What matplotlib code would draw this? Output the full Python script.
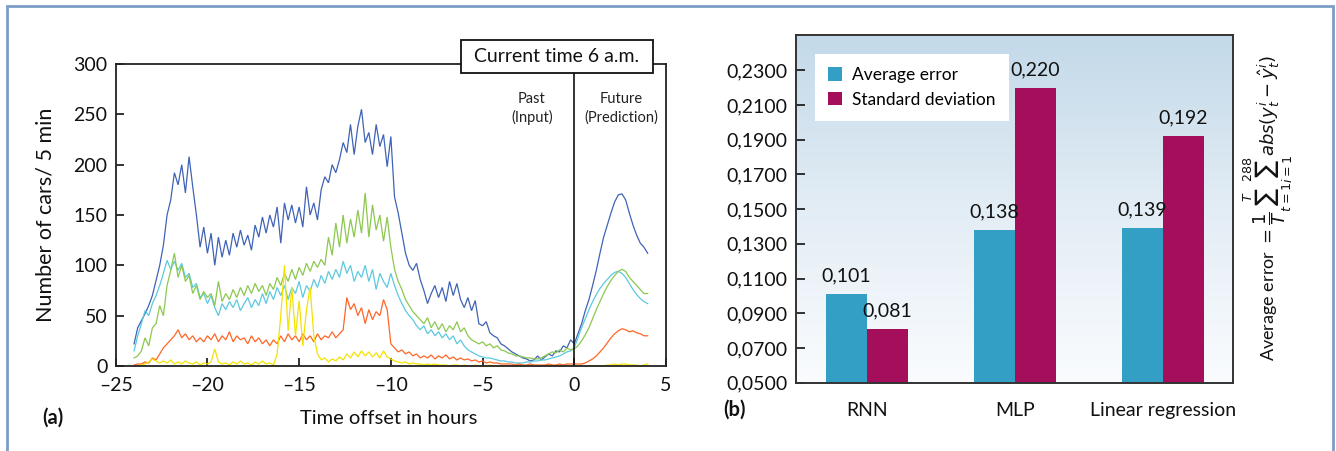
import numpy as np
import matplotlib
matplotlib.use("Agg")
import matplotlib.pyplot as plt
from matplotlib.patches import Rectangle
from matplotlib.colors import LinearSegmentedColormap

plt.rcParams['font.family'] = ['Lato', 'DejaVu Sans']
plt.rcParams['mathtext.fontset'] = 'dejavusans'

# ---------------- Panel (a) data: cars / 5 min, sampled every 0.2 h ----------------
hours = np.round(np.arange(-24.0, 4.0001, 0.2), 1)

series_blue = [
    22, 38, 45, 52, 60, 70, 85, 100, 120, 150,
    165, 192, 180, 200, 172, 208, 178, 150, 118, 138,
    112, 132, 100, 128, 108, 125, 110, 132, 118, 135,
    120, 130, 115, 140, 128, 148, 132, 150, 138, 158,
    122, 162, 145, 160, 142, 158, 138, 178, 150, 162,
    145, 175, 188, 182, 200, 192, 205, 222, 212, 240,
    210, 238, 255, 222, 232, 210, 240, 218, 230, 198,
    228, 168, 152, 132, 112, 100, 95, 102, 86, 75,
    62, 72, 80, 68, 78, 64, 84, 70, 82, 66,
    58, 68, 55, 65, 42, 40, 44, 33, 30, 28,
    22, 20, 17, 14, 12, 10, 8, 7, 5, 6,
    10, 6, 9, 12, 10, 15, 14, 20, 18, 26,
    22,
    32, 42, 55, 66, 80, 95, 112, 128, 140, 152,
    163, 170, 171, 165, 152, 140, 130, 122, 118, 112,
]
series_cyan = [
    15, 30, 42, 55, 50, 62, 70, 80, 92, 105,
    96, 104, 95, 102, 88, 92, 78, 82, 68, 72,
    62, 70, 58, 50, 62, 56, 64, 58, 66, 55,
    62, 68, 58, 66, 60, 72, 62, 74, 66, 78,
    70, 80, 66, 78, 72, 84, 68, 80, 74, 86,
    78, 90, 82, 94, 86, 96, 88, 104, 92, 100,
    84, 94, 88, 100, 84, 96, 76, 92, 84, 78,
    92, 80, 70, 62, 55, 50, 46, 40, 36, 40,
    32, 36, 30, 34, 28, 32, 26, 30, 22, 26,
    20, 16, 14, 12, 10, 9, 8, 8, 7, 6,
    5, 5, 4, 4, 3, 3, 3, 4, 4, 5,
    5, 6, 6, 7, 8, 9, 10, 12, 14, 15,
    18,
    28, 38, 47, 56, 64, 71, 77, 82, 86, 90,
    93, 94, 92, 88, 82, 76, 71, 67, 64, 62,
]
series_green = [
    8, 10, 15, 28, 20, 38, 42, 60, 50, 80,
    95, 112, 88, 100, 84, 90, 72, 80, 66, 74,
    68, 72, 60, 84, 64, 72, 66, 76, 68, 78,
    70, 80, 72, 82, 74, 80, 70, 82, 76, 88,
    80, 92, 84, 96, 86, 98, 90, 102, 94, 104,
    98, 106, 100, 128, 110, 142, 118, 150, 122, 146,
    128, 155, 132, 172, 128, 160, 135, 150, 124, 148,
    118, 96, 84, 76, 66, 60, 54, 50, 46, 42,
    48, 38, 44, 36, 42, 34, 40, 36, 44, 34,
    38, 30, 26, 24, 22, 24, 20, 22, 18, 20,
    16, 15, 13, 12, 10, 10, 9, 8, 8, 7,
    7, 8, 10, 12, 14, 13, 16, 14, 18, 16,
    17,
    20, 25, 31, 38, 47, 56, 64, 72, 79, 85,
    90, 94, 96, 94, 88, 84, 80, 76, 72, 72,
]
series_orange = [
    1, 2, 2, 4, 3, 8, 6, 12, 18, 22,
    26, 30, 36, 28, 32, 26, 30, 24, 28, 24,
    30, 26, 32, 24, 30, 26, 34, 24, 30, 26,
    28, 22, 30, 24, 28, 22, 26, 20, 26, 22,
    30, 24, 32, 26, 30, 24, 32, 26, 30, 24,
    32, 26, 30, 28, 34, 28, 32, 36, 68, 56,
    62, 50, 58, 42, 56, 46, 54, 50, 66, 56,
    22, 18, 14, 16, 12, 14, 10, 12, 8, 10,
    8, 11, 7, 10, 8, 11, 7, 9, 6, 8,
    6, 7, 5, 6, 4, 5, 3, 4, 3, 3,
    2, 2, 2, 2, 1, 2, 1, 1, 2, 1,
    1, 1, 1, 2, 1, 1, 2, 1, 2, 2,
    2,
    2, 2, 3, 5, 7, 10, 14, 18, 23, 28,
    32, 35, 37, 36, 34, 35, 33, 32, 30, 30,
]
series_yellow = [
    0, 0, 1, 2, 4, 7, 5, 3, 5, 3,
    6, 2, 4, 2, 5, 3, 2, 4, 1, 3,
    2, 4, 17, 4, 2, 3, 1, 4, 2, 5,
    2, 3, 1, 4, 2, 5, 2, 3, 1, 12,
    50, 100, 35, 78, 30, 65, 20, 56, 78, 30,
    12, 6, 8, 4, 7, 5, 9, 6, 12, 8,
    14, 9, 15, 10, 14, 9, 13, 8, 15, 9,
    7, 5, 4, 3, 4, 2, 3, 2, 2, 1,
    2, 1, 2, 1, 1, 1, 0, 1, 1, 0,
    1, 0, 0, 1, 0, 0, 0, 1, 0, 0,
    0, 0, 0, 0, 0, 0, 0, 0, 0, 0,
    0, 0, 0, 0, 0, 0, 0, 0, 0, 0,
    0,
    0, 0, 0, 0, 0, 0, 0, 0, 1, 1,
    2, 1, 2, 2, 1, 1, 1, 0, 1, 2,
]
xticks_a = [-25, -20, -15, -10, -5, 0, 5]
yticks_a = [0, 50, 100, 150, 200, 250, 300]

# ---------------- Panel (b) data ----------------
methods = ['RNN', 'MLP', 'Linear regression']
avg_error = [0.101, 0.138, 0.139]
std_dev = [0.081, 0.220, 0.192]
yticks_b = [0.05, 0.07, 0.09, 0.11, 0.13, 0.15, 0.17, 0.19, 0.21, 0.23]
ytick_labels_b = ['0,0500', '0,0700', '0,0900', '0,1100', '0,1300',
                  '0,1500', '0,1700', '0,1900', '0,2100', '0,2300']

W, H = 1336, 451
fig = plt.figure(figsize=(W / 100, H / 100), dpi=100)
fig.patch.set_facecolor('white')

def fx(px):
    return px / W

def fy(py):
    return 1 - py / H

# ================= Panel (a) =================
ax1 = fig.add_axes([fx(115.7), fy(366), (666 - 115.7) / W, 302 / H])
line_specs = [
    (series_blue, '#3f63b6'),
    (series_cyan, '#5cc9df'),
    (series_green, '#8cc84f'),
    (series_orange, '#ff6628'),
    (series_yellow, '#f4e300'),
]
for vals, col in line_specs:
    ax1.plot(hours, vals, color=col, lw=0.9, solid_joinstyle='miter')
ax1.axvline(0, color='#111111', lw=1.2)
ax1.set_xlim(-25, 5)
ax1.set_ylim(0, 300)
ax1.set_xticks(xticks_a)
ax1.set_xticklabels([str(t).replace('-', '\u2013') for t in xticks_a])
ax1.set_yticks(yticks_a)
ax1.tick_params(axis='both', direction='in', length=6, width=1.2,
                labelsize=14, colors='#111111')
ax1.tick_params(axis='y', pad=6)
ax1.tick_params(axis='x', pad=8)
for s in ax1.spines.values():
    s.set_linewidth(1.3)
    s.set_color('#222222')

ax1.text(-2.32, 256, 'Past\n(Input)', ha='center', va='center', fontsize=10.5,
         linespacing=1.35, color='#222222')
ax1.text(2.55, 256, 'Future\n(Prediction)', ha='center', va='center', fontsize=10.5,
         linespacing=1.35, color='#222222')

fig.patches.append(Rectangle((fx(461), fy(73)), 192 / W, 33 / H,
                             transform=fig.transFigure, facecolor='white',
                             edgecolor='#111111', lw=1.3, zorder=5))
fig.text(fx(557), fy(56.5), 'Current time 6 a.m.', ha='center', va='center',
         fontsize=14, color='#111111', zorder=6)

fig.text(fx(389), fy(418), 'Time offset in hours', ha='center', va='center',
         fontsize=14.5, color='#111111')
fig.text(fx(46), fy(215), 'Number of cars/ 5 min', ha='center', va='center',
         rotation=90, fontsize=15.5, color='#111111')
fig.text(fx(53), fy(418), '(a)', ha='center', va='center', fontsize=14.5,
         fontweight='bold', color='#111111')

# ================= Panel (b) =================
ax2 = fig.add_axes([fx(795.7), fy(382.7), (1233.3 - 795.7) / W, 347.7 / H])
ax2.set_xlim(-0.48, 2.477)
ax2.set_ylim(0.05, 0.2503)

grad_cmap = LinearSegmentedColormap.from_list(
    'bg', ['#fafcfe', '#e3edf5', '#c3d9e9'])
grad = np.linspace(0, 1, 256).reshape(-1, 1)
ax2.imshow(grad, extent=(-0.48, 2.477, 0.05, 0.2503), origin='lower',
           aspect='auto', cmap=grad_cmap, zorder=0)

x = np.arange(len(methods))
bw = 0.277
ax2.bar(x - bw / 2, avg_error, width=bw, color='#349fc4', label='Average error', zorder=2)
ax2.bar(x + bw / 2, std_dev, width=bw, color='#a40e5b', label='Standard deviation', zorder=2)
for xi, v in zip(x - bw / 2, avg_error):
    ax2.text(xi, v + 0.0055, f'{v:.3f}'.replace('.', ','), ha='center',
             va='bottom', fontsize=14, color='#111111')
for xi, v in zip(x + bw / 2, std_dev):
    ax2.text(xi, v + 0.0055, f'{v:.3f}'.replace('.', ','), ha='center',
             va='bottom', fontsize=14, color='#111111')

ax2.set_yticks(yticks_b)
ax2.set_yticklabels(ytick_labels_b)
ax2.set_xticks(x)
ax2.set_xticklabels(methods)
ax2.tick_params(axis='y', direction='in', length=6.5, width=1.2, labelsize=14,
                pad=6, colors='#111111')
ax2.tick_params(axis='x', length=0, labelsize=14, pad=14, colors='#111111')
for s in ax2.spines.values():
    s.set_linewidth(1.4)
    s.set_color('#333333')
    s.set_zorder(3)

leg = ax2.legend(loc='upper left', bbox_to_anchor=(0.044, 0.945), borderaxespad=0,
                 fancybox=False, framealpha=1, edgecolor='white', fontsize=12.5,
                 handlelength=0.8, handleheight=0.8, handletextpad=0.6,
                 borderpad=0.75, labelspacing=0.5)
leg.get_frame().set_linewidth(0)

fig.text(fx(735), fy(410), '(b)', ha='center', va='center', fontsize=14.5,
         fontweight='bold', color='#111111')

fig.text(fx(1268), fy(208),
         r'Average error $=\dfrac{1}{T}\sum_{t=1}^{T}\sum_{i=1}^{288}abs(y_t^i - \hat{y}_t^i)$',
         rotation=90, ha='center', va='center', fontsize=13, color='#111111')

# outer border
fig.patches.append(Rectangle((fx(6.5), -0.1), (1333 - 6.5) / W, 1.1 - 6 / H,
                             transform=fig.transFigure, fill=False,
                             edgecolor='#7c9dc6', lw=2, zorder=10))

fig.savefig('out.png', dpi=100)
